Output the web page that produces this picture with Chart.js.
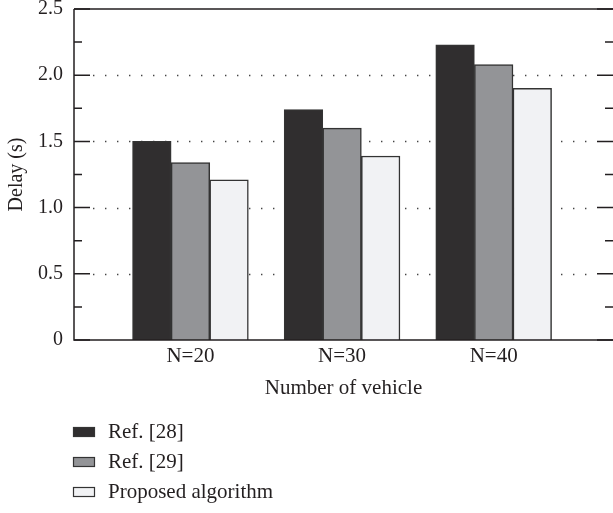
<!DOCTYPE html>
<html lang="en">

<head>
    <meta charset="UTF-8">
    <title>Delay</title>
    <script src="https://cdn.jsdelivr.net/npm/chart.js"></script>
    <style>
        body {
            margin: 0;
            background-color: white;
        }

        #chartContainer {
            width: 613px;
            height: 513px;
        }
    </style>
</head>

<body>
    <div id="chartContainer">
        <canvas id="myChart"></canvas>
    </div>

    <script>
        const categories = ['N=20', 'N=30', 'N=40'];
        const seriesNames = ['Ref. [28]', 'Ref. [29]', 'Proposed algorithm'];
        const ref28 = [1.50, 1.74, 2.23];
        const ref29 = [1.34, 1.60, 2.08];
        const proposed = [1.21, 1.39, 1.90];
        const yTicks = [0, 0.5, 1.0, 1.5, 2.0, 2.5];

        const fillColors = ['#302e2f', '#939497', '#f1f2f4'];
        const ink = '#231f20';
        const fontFamily = '"Liberation Serif", "DejaVu Serif", serif';

        // axis frame, inward ticks and dotted grid
        const framePlugin = {
            id: 'frame',
            beforeDatasetsDraw(chart) {
                const { ctx, chartArea: a, scales: { y } } = chart;
                ctx.save();
                ctx.strokeStyle = '#444';
                ctx.lineWidth = 1.4;
                ctx.setLineDash([1.4, 10.6]);
                yTicks.slice(1, -1).forEach(v => {
                    const py = Math.round(y.getPixelForValue(v)) + 0.5;
                    ctx.beginPath();
                    ctx.moveTo(a.left + 19, py);
                    ctx.lineTo(a.right - 16, py);
                    ctx.stroke();
                });
                ctx.restore();
            },
            afterDatasetsDraw(chart) {
                const { ctx, chartArea: a, scales: { y } } = chart;
                ctx.save();
                ctx.strokeStyle = ink;
                ctx.lineWidth = 1.5;
                ctx.beginPath();
                ctx.moveTo(a.left, a.top);
                ctx.lineTo(a.right, a.top);
                ctx.moveTo(a.left, a.top);
                ctx.lineTo(a.left, a.bottom);
                ctx.lineTo(a.right, a.bottom);
                ctx.stroke();
                for (let v = 0; v <= 2.5001; v += 0.25) {
                    const py = y.getPixelForValue(v);
                    const major = Math.abs(v * 2 - Math.round(v * 2)) < 1e-6;
                    const len = major ? 16 : 8;
                    ctx.beginPath();
                    ctx.moveTo(a.left, py);
                    ctx.lineTo(a.left + len, py);
                    ctx.moveTo(a.right, py);
                    ctx.lineTo(a.right - len, py);
                    ctx.stroke();
                }
                ctx.restore();
            },
            afterDraw(chart) {
                const { ctx } = chart;
                ctx.save();
                ctx.font = '21px ' + fontFamily;
                ctx.textBaseline = 'middle';
                chart.data.datasets.forEach((ds, i) => {
                    const cy = 432 + i * 30;
                    ctx.fillStyle = ds.backgroundColor;
                    ctx.strokeStyle = '#333';
                    ctx.lineWidth = 1.2;
                    ctx.fillRect(73, cy - 5, 22, 10);
                    ctx.strokeRect(73.5, cy - 4.5, 21, 9);
                    ctx.fillStyle = ink;
                    ctx.fillText(ds.label, 108, cy);
                });
                ctx.restore();
            }
        };

        const seriesValues = [ref28, ref29, proposed];

        const ctx = document.getElementById('myChart').getContext('2d');
        const chart = new Chart(ctx, {
            type: 'bar',
            data: {
                datasets: seriesValues.map((vals, i) => ({
                    label: seriesNames[i],
                    data: vals.map((v, j) => ({ x: j, y: v })),
                    backgroundColor: fillColors[i],
                    borderColor: '#333',
                    borderWidth: 1.5,
                    borderSkipped: 'bottom',
                    barThickness: 38.6
                }))
            },
            options: {
                responsive: true,
                maintainAspectRatio: false,
                animation: false,
                layout: {
                    padding: { top: 9, left: 0, right: 0, bottom: 111 }
                },
                plugins: {
                    legend: { display: false },
                    tooltip: { enabled: false }
                },
                scales: {
                    x: {
                        type: 'linear',
                        offset: false,
                        min: -0.768,
                        max: 2.787,
                        grid: { display: false, drawTicks: false },
                        border: { display: false },
                        afterBuildTicks(scale) {
                            scale.ticks = categories.map((c, i) => ({ value: i }));
                        },
                        afterFit(scale) {
                            scale.height = 62;
                            scale.paddingLeft = 0;
                            scale.paddingRight = 0;
                        },
                        ticks: {
                            padding: 4,
                            color: ink,
                            font: { family: fontFamily, size: 21 },
                            maxRotation: 0,
                            autoSkip: false,
                            callback: (v) => categories[Math.round(v)]
                        },
                        title: {
                            display: true,
                            text: 'Number of vehicle',
                            color: ink,
                            padding: { top: 4, bottom: 1 },
                            font: { family: fontFamily, size: 21 }
                        }
                    },
                    y: {
                        min: 0,
                        max: 2.5,
                        grid: { display: false, drawTicks: false },
                        border: { display: false },
                        afterBuildTicks(scale) {
                            scale.ticks = yTicks.map(v => ({ value: v }));
                        },
                        afterFit(scale) {
                            scale.width = 74;
                            scale.paddingTop = 0;
                            scale.paddingBottom = 0;
                        },
                        ticks: {
                            padding: 11,
                            color: ink,
                            font: { family: fontFamily, size: 20 },
                            callback: (v) => v === 0 ? '0' : v.toFixed(1)
                        },
                        title: {
                            display: true,
                            text: 'Delay (s)',
                            color: ink,
                            padding: { top: 5, bottom: 4 },
                            font: { family: fontFamily, size: 20 }
                        }
                    }
                }
            },
            plugins: [framePlugin]
        });
    </script>
</body>

</html>
